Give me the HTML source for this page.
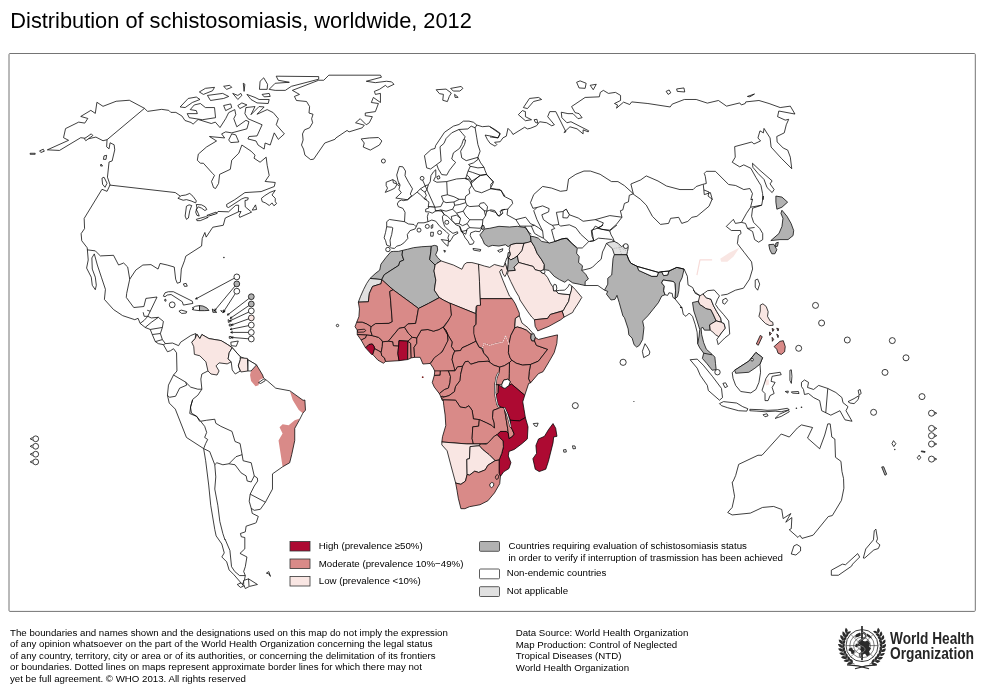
<!DOCTYPE html>
<html><head><meta charset="utf-8"><title>Distribution of schistosomiasis, worldwide, 2012</title>
<style>
html,body{margin:0;padding:0;background:#fff}
svg{display:block}
text{filter:grayscale(1)}
text{font-family:"Liberation Sans",sans-serif;fill:#000}
.t{font-size:21.8px}
.lg{font-size:9.7px}
.ft{font-size:9.7px}
.who{font-family:"Liberation Sans",sans-serif;font-weight:bold;font-size:16.6px;fill:#262626}
#map path,#map circle{stroke:#000;stroke-width:0.75;stroke-linejoin:round}
</style></head><body>
<svg width="988" height="691" viewBox="0 0 988 691">
<rect x="0" y="0" width="988" height="691" fill="#fff"/>
<text class="t" x="10.3" y="27.6">Distribution of schistosomiasis, worldwide, 2012</text>
<g id="map">
<path d="M256.52 364.9 L262.59 375.02 L263.6 378.06 L259.55 380.08 L258.54 385.14 L255.51 386.15 L251.05 381.09 L250.04 375.02 L251.05 370.97 Z" fill="#d98a88" style="stroke:none"/>
<path d="M304.86 400 L305.47 410.12 L302.83 413.16 L298.79 410.12 L292.71 400 L289.92 391.21 L303.08 400.32 Z" fill="#d98a88" style="stroke:none"/>
<path d="M299.8 418.62 L294.74 428.34 L294.74 440.49 L291.7 454.66 L289.68 462.75 L282.59 466.8 L278.54 440.49 L282.59 433.4 L279.55 427.33 L282.59 424.29 L288.66 425.3 L294.74 420.24 Z" fill="#d98a88" style="stroke:none"/>
<path d="M720.2 258.83 L729.31 252.75 L739.43 247.69 L733.36 256.8 L727.29 261.86 L721.21 261.86 Z" fill="#f9e6e3" style="stroke:none"/>
<path d="M765.02 380.36 L768.66 379.35 L769.07 384.41 L766.03 385.43 Z" fill="#f9e6e3" style="stroke:none"/>
<path d="M370.04 278.43 L375.05 273.76 L379.73 270.08 L380.9 264.24 L385.91 257.56 L390.92 251.71 L393.76 251.38 L398.43 251.38 L402.61 250.37 L402.11 255.05 L403.78 260.06 L399.77 261.73 L398.77 265.4 L390.08 270.92 L384.24 274.76 L381.73 279.6 Z" fill="#b2b2b2"/>
<path d="M402.61 250.37 L407.62 249.21 L413.46 247.7 L421.81 246.7 L431.33 246.2 L430.83 251.71 L429.66 259.73 L435.17 265.07 L434 270.92 L435.84 280.1 L434.34 290.12 L439.35 297.64 L428.49 303.48 L418.47 308.49 L411.79 303.48 L393.09 289.79 L381.73 279.6 L384.24 274.76 L390.08 270.92 L398.77 265.4 L399.77 261.73 L403.78 260.06 L402.11 255.05 Z" fill="#b2b2b2"/>
<path d="M431.33 246.2 L434.34 245.36 L437.18 246.03 L437.68 250.04 L435.67 254.72 L437.68 257.56 L441.02 260.9 L436.84 263.4 L435.17 265.07 L429.66 259.73 L430.83 251.71 Z" fill="#b2b2b2"/>
<path d="M435.17 265.07 L436.84 263.4 L441.02 260.9 L446.03 262.57 L453.54 265.07 L461.89 269.25 L464.4 264.24 L466.9 262.57 L471.91 262.57 L478.59 264.24 L479.43 271.75 L480.26 298.47 L480.6 305.99 L476.09 306.49 L475.59 313.5 L450.2 303.48 L443.52 300.14 L439.35 297.64 L434.34 290.12 L435.84 280.1 L434 270.92 Z" fill="#f9e6e3"/>
<path d="M370.04 278.43 L381.73 279.6 L381.06 283.78 L372.55 286.45 L369.37 293.46 L368.37 301.81 L358.35 302.15 L360.35 296.8 L363.69 289.29 L366.7 283.44 Z" fill="#e1e1e1"/>
<path d="M358.35 302.15 L368.37 301.81 L369.37 293.46 L372.55 286.45 L381.06 283.78 L381.73 279.6 L393.09 289.79 L389.75 291.46 L390.58 300.14 L392.31 321.71 L388.97 323.38 L375.61 323.6 L371.15 326.72 L366.7 323.94 L362.25 322.27 L356.68 322.27 L358.91 316.7 L359.46 308.91 Z" fill="#d98a88"/>
<path d="M356.68 322.27 L362.25 322.27 L366.7 323.94 L371.15 326.72 L370.6 330.62 L372.27 335.63 L366.7 335.07 L357.24 334.51 L357.24 330.06 L355.01 326.72 Z" fill="#d98a88"/>
<path d="M357.57 329.84 L364.47 329.17 L365.81 330.62 L363.92 332.06 L357.57 332.29 Z" fill="#d98a88"/>
<path d="M357.24 334.51 L366.7 335.07 L365.59 337.85 L361.13 340.08 Z" fill="#d98a88"/>
<path d="M361.13 340.08 L365.59 337.85 L366.7 335.07 L372.27 335.63 L378.39 337.3 L381.73 340.08 L382.51 341.75 L382.29 346.76 L381.17 352.33 L378.39 350.66 L375.05 348.99 L373.94 346.2 L372.27 343.98 L368.93 344.53 L365.59 347.87 Z" fill="#d98a88"/>
<path d="M365.59 347.87 L368.93 344.53 L372.27 343.98 L373.94 346.2 L374.49 348.99 L372.82 354.55 L371.71 354.55 Z" fill="#ad0a32"/>
<path d="M372.82 354.55 L374.49 348.99 L375.05 348.99 L378.39 350.66 L381.17 352.33 L381.73 355.67 L384.51 357.89 L385.63 361.46 L383.4 363.24 L377.83 360.12 Z" fill="#d98a88"/>
<path d="M382.51 341.75 L388.41 341.19 L392.86 341.75 L393.42 345.65 L398.65 345.87 L397.87 353.44 L398.99 360.68 L385.63 361.46 L384.51 357.89 L381.73 355.67 L381.17 352.33 L382.29 346.76 Z" fill="#d98a88"/>
<path d="M390.58 300.14 L389.75 291.46 L393.09 289.79 L411.79 303.48 L418.47 308.49 L416.8 317.81 L415.69 323.38 L407.89 323.94 L404.55 327.28 L398.99 328.39 L388.41 341.19 L382.51 341.75 L381.73 340.08 L378.39 337.3 L372.27 335.63 L370.6 330.62 L371.15 326.72 L375.61 323.6 L388.97 323.38 L392.31 321.71 Z" fill="#d98a88"/>
<path d="M388.41 341.19 L398.99 328.39 L404.55 327.28 L408.45 333.4 L412.35 337.3 L407.89 341.19 L398.99 340.64 L398.65 345.87 L393.42 345.65 L392.86 341.75 Z" fill="#d98a88"/>
<path d="M398.99 340.64 L407.89 341.19 L407.89 344.53 L407.67 359.56 L398.99 360.68 L397.87 353.44 L398.65 345.87 Z" fill="#ad0a32"/>
<path d="M407.89 341.19 L410.68 343.42 L411.23 357.89 L407.67 359.56 L407.89 344.53 Z" fill="#d98a88"/>
<path d="M410.68 343.42 L407.89 341.19 L412.35 337.3 L416.8 337.85 L416.8 343.42 L414.02 347.32 L414.57 357.34 L411.23 357.89 Z" fill="#d98a88"/>
<path d="M416.8 337.85 L421.26 330.06 L427.94 329.5 L433.5 331.17 L439.07 329.5 L443.52 326.72 L447.42 333.4 L447.98 341.19 L444.64 347.87 L439.07 355.67 L435.17 357.34 L430.16 363.46 L422.93 364.02 L420.14 357.34 L414.57 357.34 L414.02 347.32 L416.8 343.42 Z" fill="#d98a88"/>
<path d="M418.47 308.49 L428.49 303.48 L439.35 297.64 L443.52 300.14 L450.2 303.48 L450.76 303.9 L451.54 316.7 L446.86 322.27 L443.52 326.72 L439.07 329.5 L433.5 331.17 L427.94 329.5 L421.26 330.06 L416.8 337.85 L412.35 337.3 L408.45 333.4 L404.55 327.28 L407.89 323.94 L415.69 323.38 L416.8 317.81 Z" fill="#d98a88"/>
<path d="M478.55 264.21 L484.47 266.05 L489.74 267.37 L494.34 264.47 L500.26 266.05 L503.55 266.84 L505.26 262.5 L507.5 270.39 L506.18 274.34 L504.87 276.58 L502.89 273.68 L501.58 269.08 L499.61 271.71 L502.89 280.26 L506.18 288.16 L509.47 296.05 L512.11 298.68 L480.26 298.68 L479.47 281.58 Z" fill="#f9e6e3"/>
<path d="M479.87 234.87 L483.16 230.92 L484.47 228.95 L489.74 228.29 L498.95 226.32 L509.47 226.97 L517.37 226.32 L525.26 227.63 L527.89 230.92 L530.53 236.18 L531.18 241.45 L527.89 242.76 L522.63 243.42 L516.05 243.42 L510.79 244.74 L508.16 246.71 L505.53 244.74 L498.95 246.05 L492.37 245.39 L488.42 246.71 L484.47 244.08 L482.5 239.47 Z" fill="#b2b2b2"/>
<path d="M481.18 227.63 L482.5 225 L483.82 225.66 L484.47 228.29 L482.5 229.61 Z" fill="#b2b2b2"/>
<path d="M510.13 246.05 L510.79 244.74 L516.05 243.42 L523.95 243.42 L521.97 250.66 L517.37 255.92 L514.74 257.89 L510.79 259.87 L508.42 257.89 L508.82 257.24 L510.26 254.61 L509.74 251.97 L509.21 249.34 Z" fill="#f9e6e3"/>
<path d="M508.16 252.63 L509.74 251.97 L510.26 254.61 L508.82 257.24 L507.5 257.24 Z" fill="#b2b2b2"/>
<path d="M505.26 262.5 L506.84 257.89 L508.42 257.89 L508.16 264.47 L507.5 270.39 Z" fill="#ffffff"/>
<path d="M508.42 257.89 L510.79 259.87 L514.74 257.89 L517.37 255.92 L518.68 262.5 L514.08 267.11 L515.39 270.39 L508.16 271.05 L507.5 270.39 L508.16 264.47 Z" fill="#b2b2b2"/>
<path d="M523.95 243.42 L531.18 241.45 L534.47 246.71 L537.11 253.29 L541.71 259.87 L544.34 264.47 L543.68 269.74 L540.39 271.05 L535.13 269.74 L533.16 266.45 L518.68 262.5 L517.37 255.92 L521.97 250.66 Z" fill="#f9e6e3"/>
<path d="M531.18 241.45 L530.53 236.18 L534.47 236.84 L538.42 238.16 L541.71 241.45 L548.95 242.76 L556.84 240.79 L562.11 238.82 L567.37 238.16 L571.32 242.76 L577.24 248.68 L576.58 253.29 L579.21 256.58 L578.55 262.5 L582.5 265.79 L581.84 270.39 L585.79 274.34 L588.42 278.95 L585.13 281.58 L585.13 285.53 L579.21 284.21 L572.63 282.89 L568.03 279.61 L564.74 282.24 L559.47 279.61 L554.21 276.32 L548.95 270.39 L544.34 269.74 L544.34 264.47 L541.71 259.87 L537.11 253.29 L534.47 246.71 Z" fill="#b2b2b2"/>
<path d="M540.39 271.05 L543.68 269.74 L545 271.71 L544.34 273.68 L541.71 273.03 Z" fill="#ffffff"/>
<path d="M508.16 271.05 L515.39 270.39 L514.08 267.11 L518.68 262.5 L533.16 266.45 L535.13 269.74 L540.39 271.05 L541.71 273.03 L544.34 273.68 L547.63 277.63 L550.26 282.89 L552.24 286.18 L553.16 286.84 L553.55 290.79 L556.18 290.79 L558.16 293.42 L570 294.74 L568.68 301.32 L564.74 307.89 L563.42 310.53 L550.26 314.47 L547.63 318.42 L534.47 319.74 L531.84 317.11 L527.89 311.84 L520 300 L518.95 296.71 L515.39 290.79 L510.79 281.58 L507.5 274.34 Z" fill="#f9e6e3"/>
<path d="M553.16 286.84 L554.21 284.21 L556.18 284.87 L556.84 288.16 L556.18 290.79 L553.55 290.79 Z" fill="#ffffff"/>
<path d="M556.18 290.79 L558.16 293.42 L570 294.74 L571.32 290.79 L571.97 286.18 L569.34 284.21 L568.03 286.84 L564.74 290.13 L559.47 290.39 Z" fill="#ffffff"/>
<path d="M571.97 286.18 L575.26 289.47 L581.84 297.37 L577.89 303.95 L573.95 309.87 L572.63 312.5 L564.08 317.11 L562.11 311.18 L563.42 310.53 L564.74 307.89 L568.68 301.32 L570 294.74 L571.32 290.79 Z" fill="#f9e6e3"/>
<path d="M534.47 319.74 L547.63 318.42 L550.26 314.47 L562.11 311.18 L564.08 317.11 L560.79 319.74 L548.95 326.32 L537.76 330.92 L535.13 326.32 Z" fill="#d98a88"/>
<path d="M480.26 298.68 L512.11 298.68 L515.39 303.95 L519.34 313.16 L519.34 315.79 L515.39 318.42 L514.74 327.89 L510.79 335.53 L508.82 344.74 L508.16 342.11 L505.53 335.53 L502.89 342.11 L496.32 343.42 L489.74 345.39 L483.82 343.42 L482.5 348.03 L479.21 347.37 L475.92 340.79 L473.29 334.21 L473.29 327.63 L475.92 324.34 L476.32 313.16 L476.84 305.53 L480.53 305.26 Z" fill="#d98a88"/>
<path d="M519.34 315.79 L521.97 323.03 L527.89 327.63 L532.5 332.89 L531.18 334.47 L526.58 330.26 L521.97 328.29 L517.37 326.97 L514.74 327.89 L515.39 318.42 Z" fill="#f9e6e3"/>
<path d="M482.5 348.03 L483.82 343.42 L489.74 345.39 L496.32 343.42 L502.89 342.11 L505.53 335.53 L508.16 342.11 L508.82 344.74 L508.42 352.63 L510.13 357.89 L511.84 360.26 L509.47 362.5 L504.21 365.79 L499.61 367.11 L493.68 365.13 L489.08 361.84 L487.76 357.24 L483.82 353.29 Z" fill="#d98a88"/>
<path d="M514.74 327.89 L517.37 326.97 L521.97 328.29 L526.58 330.26 L531.18 334.47 L530.79 338.16 L531.84 340.79 L534.47 340.79 L536.45 345.39 L547.63 349.34 L538.42 361.18 L530.53 364.47 L522.63 365.13 L516.05 363.16 L511.84 360.26 L510.13 357.89 L508.42 352.63 L508.82 344.74 L510.79 335.53 Z" fill="#d98a88"/>
<path d="M531.18 334.47 L533.82 333.55 L535.39 337.5 L534.47 340.79 L531.84 340.79 L530.79 338.16 Z" fill="#b2b2b2"/>
<path d="M535.39 337.5 L538.42 339.47 L548.95 336.84 L557.5 334.87 L556.84 343.42 L554.21 352.63 L548.95 361.84 L543.03 371.71 L538.42 373.68 L530.53 382.89 L528.55 378.95 L529.21 371.71 L530.53 364.47 L538.42 361.18 L547.63 349.34 L536.45 345.39 L534.47 340.79 Z" fill="#d98a88"/>
<path d="M511.84 360.26 L516.05 363.16 L522.63 365.13 L530.53 364.47 L529.21 371.71 L528.55 378.95 L530.53 382.89 L528.68 383.42 L524.74 395.26 L511.58 384.08 L508.95 385.39 L510.26 381.45 L508.95 379.74 L509.21 373.68 L509.47 362.5 Z" fill="#d98a88"/>
<path d="M499.61 367.11 L504.21 365.79 L509.47 362.5 L509.21 373.68 L508.95 379.74 L507.63 379.21 L503.68 380.13 L501.71 384.74 L498.42 384.74 L495.79 384.74 L495.79 379.47 L497.76 374.21 L499.61 369.74 Z" fill="#d98a88"/>
<path d="M450.13 303.16 L475.79 313.68 L475.79 324.21 L473.82 326.18 L473.82 333.42 L475.79 341.32 L467.89 345.26 L461.97 347.89 L460.66 350.53 L454.74 351.18 L451.45 346.58 L452.11 341.97 L448.16 335.39 L446.18 330.79 L443.55 327.5 L448.16 320.92 L451.45 315 L450.79 308.42 Z" fill="#d98a88"/>
<path d="M443.55 327.5 L446.18 330.79 L448.16 335.39 L452.11 341.97 L451.45 346.58 L454.74 351.18 L452.76 355.79 L452.11 359.74 L455.39 370.26 L448.16 370.92 L440.26 371.58 L435 371.58 L433.03 367.63 L430.39 363.68 L434.34 357.76 L442.24 351.84 L448.16 340 L447.5 334.74 Z" fill="#d98a88"/>
<path d="M454.74 351.18 L460.66 350.53 L461.97 347.89 L467.89 345.26 L475.79 341.32 L479.08 347.24 L481.71 348.55 L483.68 353.16 L488.29 358.42 L489.61 361.71 L487.94 361.26 L478.83 361.76 L470.73 364.29 L468.2 361.26 L465.16 361.76 L462.63 366.32 L457.57 366.82 L455.04 370.87 L452.11 359.74 L452.76 355.79 Z" fill="#d98a88"/>
<path d="M434.8 370.87 L440.36 370.87 L440.16 375.22 L434.29 375.43 Z" fill="#d98a88"/>
<path d="M434.29 375.43 L440.16 375.22 L440.36 370.87 L448.46 370.87 L450.49 376.44 L449.98 382.51 L448.46 388.08 L444.41 389.6 L439.35 393.64 L434.29 387.06 L432.27 382.51 Z" fill="#d98a88"/>
<path d="M448.46 370.87 L455.04 370.87 L457.57 366.82 L462.63 366.32 L460.61 374.41 L460.1 380.49 L455.55 386.56 L454.53 391.62 L448.97 395.67 L443.4 397.19 L441.88 398.7 L441.38 397.69 L439.35 393.64 L444.41 389.6 L448.46 388.08 L449.98 382.51 L450.49 376.44 Z" fill="#d98a88"/>
<path d="M440.87 396.68 L442.89 396.17 L443.91 398.2 L442.39 400.22 Z" fill="#d98a88"/>
<path d="M462.63 366.32 L465.16 361.76 L468.2 361.26 L470.73 364.29 L478.83 361.76 L487.94 361.26 L489.08 361.84 L493.68 365.13 L499.61 367.11 L499.07 372.89 L496.03 378.46 L495.02 384.53 L495.39 384.74 L495.13 392.63 L495.79 395.26 L497.11 404.47 L501.05 407.11 L498.42 408.42 L493.16 410.39 L492.5 417.63 L494.21 422.89 L494.47 428.16 L491.84 425.53 L486.58 422.89 L479.34 419.61 L473.42 418.95 L472.11 410.39 L468.82 405.79 L465.53 407.76 L460.26 407.11 L455.66 400.26 L443.16 399.87 L442.89 400.73 L441.88 398.7 L443.4 397.19 L448.97 395.67 L454.53 391.62 L455.55 386.56 L460.1 380.49 L460.61 374.41 Z" fill="#d98a88"/>
<path d="M443.16 399.87 L455.66 400.26 L460.26 407.11 L465.53 407.76 L468.82 405.79 L472.11 410.39 L473.42 418.95 L479.34 419.61 L478.68 426.18 L472.76 426.84 L472.11 438.68 L473.42 443.95 L466.84 443.95 L441.84 441.97 L442.5 436.71 L445.79 425.53 L445.13 415 L443.82 405.79 Z" fill="#d98a88"/>
<path d="M493.16 410.39 L498.42 408.42 L501.05 407.11 L504.34 407.76 L506.32 420.26 L507.63 428.16 L508.29 433.42 L506.32 431.45 L500.39 431.45 L497.11 434.74 L494.47 436.05 L487.89 443.29 L480.66 443.95 L473.42 443.95 L472.11 438.68 L472.76 426.84 L478.68 426.18 L479.34 419.61 L486.58 422.89 L491.84 425.53 L494.47 428.16 L494.21 422.89 L492.5 417.63 Z" fill="#d98a88"/>
<path d="M495.39 384.74 L498.42 384.74 L498.16 392.63 L495.79 395.26 L495.13 392.63 Z" fill="#d98a88"/>
<path d="M498.42 384.74 L501.71 386.71 L505 388.42 L508.95 385.39 L511.58 384.08 L524.74 395.26 L522.76 401.84 L524.08 409.74 L525.39 417.63 L519.47 420.92 L510.26 420.26 L507.63 413.68 L504.34 407.76 L501.05 407.11 L497.11 404.47 L495.79 395.26 L498.16 392.63 Z" fill="#ad0a32"/>
<path d="M501.71 384.74 L503.68 380.13 L507.63 379.21 L510.26 381.45 L508.95 385.39 L505 388.42 L502.11 387.37 Z" fill="#ffffff"/>
<path d="M504.34 407.76 L507.63 413.68 L510.26 420.26 L510.53 426.84 L512.24 429.47 L514.21 434.08 L512.24 436.71 L508.95 438.68 L508.29 433.42 L507.63 428.16 L506.32 420.26 Z" fill="#d98a88"/>
<path d="M525.39 417.63 L528.03 426.84 L527.37 438.68 L527.37 438.95 L522.11 443.55 L514.21 449.47 L508.95 451.45 L508.29 456.05 L510.92 462.63 L508.95 468.55 L503.68 471.84 L500.39 476.45 L499.08 473.16 L499.08 460 L501.71 453.42 L503.42 446.84 L503.03 440.92 L499.74 437.63 L497.11 434.74 L500.39 431.45 L506.32 431.45 L508.29 433.42 L508.95 438.68 L512.24 436.71 L514.21 434.08 L512.24 429.47 L510.53 426.84 L510.26 420.26 L519.47 420.92 Z" fill="#ad0a32"/>
<path d="M480 443.95 L486.58 444.21 L491.18 439.61 L494.47 436.05 L497.11 434.74 L499.74 437.63 L503.03 440.92 L503.42 446.84 L501.71 453.42 L499.08 460 L495.13 460.66 L489.21 454.74 L482.63 449.47 L479.34 445.79 Z" fill="#d98a88"/>
<path d="M441.84 441.97 L466.84 443.95 L473.42 443.95 L480 443.95 L479.34 445.79 L470.13 446.58 L469.47 458.68 L466.84 459.34 L467.11 474.47 L465.53 481.05 L460.92 484.34 L455.66 483.03 L451.05 465.92 L447.11 450.79 L441.84 444.87 Z" fill="#f9e6e3"/>
<path d="M470.13 446.58 L479.34 445.79 L482.63 449.47 L489.21 454.74 L495.13 460.66 L487.89 465.26 L485.26 469.87 L478.68 472.5 L474.74 471.18 L469.47 475.13 L467.11 474.47 L466.84 459.34 L469.47 458.68 Z" fill="#f9e6e3"/>
<path d="M455.66 483.03 L460.92 484.34 L465.53 481.05 L467.11 474.47 L469.47 475.13 L474.74 471.18 L478.68 472.5 L485.26 469.87 L487.89 465.26 L495.13 460.66 L499.08 460 L499.08 473.16 L500.39 476.45 L499.74 483.68 L494.47 492.89 L487.89 500.79 L480 504.74 L469.47 506.71 L464.87 508.68 L460.92 508.68 L458.29 498.16 L456.97 490.26 Z" fill="#d98a88"/>
<path d="M495.79 475.79 L497.37 474.47 L498.68 476.05 L498.16 478.68 L496.45 479.47 L495.39 477.76 Z" fill="#d98a88"/>
<path d="M489.87 483.95 L491.84 482.37 L493.82 483.42 L493.55 486.05 L491.58 487.63 L489.87 486.32 Z" fill="#ffffff"/>
<path d="M553.03 423.55 L555.66 428.16 L556.97 436.32 L553.68 436.97 L553.03 442.89 L548.42 461.32 L545.79 469.21 L539.21 471.58 L535.26 469.21 L532.89 458.68 L536.58 453.42 L535.92 445.53 L538.55 438.95 L544.47 436.32 L548.42 429.74 Z" fill="#ad0a32"/>
<path d="M399.34 166.45 L402.89 166.84 L405.53 171.05 L405 175.66 L408.55 182.24 L412.5 188.82 L410.26 194.08 L411.58 195.79 L407.24 199.74 L401.97 198.95 L395.79 198.03 L401.32 192.76 L398.95 189.47 L400 185.26 L398.03 180.92 L396.71 175 Z" fill="#ffffff"/>
<path d="M386.18 182.24 L392.76 179.61 L396.05 181.58 L396.71 184.87 L394.74 188.16 L390.79 190.13 L385.26 192.37 L387.5 188.16 L386.18 185.53 Z" fill="#ffffff"/>
<path d="M392.76 179.61 L393.42 182.89 L396.05 183.55" fill="none"/>
<path d="M386.69 221.71 L389.47 219.48 L404.5 221.71 L408.4 223.94 L413.97 224.49 L416.19 226.72 L415.08 228.95 L410.07 230.62 L407.29 234.51 L407.84 238.41 L403.95 242.86 L400.61 245.09 L396.71 246.2 L394.48 248.43 L391.7 248.1 L389.47 246.2 L386.69 245.09 L385.58 240.64 L384.13 237.85 L385.58 232.29 L386.69 226.72 Z" fill="#ffffff"/>
<path d="M386.69 226.72 L391.7 227.28 L392.81 227.83 L391.7 234.51 L390.03 240.08 L390.59 245.65 L389.47 246.2" fill="none"/>
<path d="M404.5 221.71 L405.06 212.25 L402.83 208.35 L398.38 206.68 L397.27 203.9 L398.94 201.11 L401.72 200 L403.29 200.66 L407.89 199.74 L410.53 197.37 L417.11 192.11 L420.39 188.82 L425.66 185.53 L428.29 184.87 L430.26 181.58 L430.92 175.66 L433.55 171.71 L435.79 169.74 L435.79 176.32 L433.55 180.53 L436.84 182.24 L446.71 181.58 L456.58 178.95 L465.79 178.29 L465.65 179.03 L466.76 175.13 L468.1 171.01 L470.32 166.22 L468.54 164.55 L473.44 162.88 L477.89 159.54 L477.89 157.32 L466.2 160.66 L461.75 157.87 L460.64 151.19 L464.53 144.51 L465.65 140.06 L463.42 139.5 L461.75 144.51 L459.52 148.41 L453.4 152.86 L451.73 158.99 L455.63 162.33 L449.5 170.12 L446.72 175.13 L441.71 174.57 L438.37 169.01 L436.7 164.55 L430.58 169.01 L426.68 167.89 L424.45 155.65 L431.13 149.52 L435.03 148.41 L435.59 145.63 L444.49 132.27 L453.4 126.14 L458.97 124.47 L463.42 121.13 L468.99 121.13 L473.44 122.25 L476.78 125.03 L482.35 126.7 L489.03 126.14 L495.71 130.04 L500.16 133.38 L497.94 137.83 L491.26 136.16 L485.13 135.05 L487.36 139.5 L490.14 143.4 L495.15 146.18 L496.82 144.51 L494.6 142.29 L500.16 141.73 L502.95 137.83 L506.29 136.16 L507.96 128.37 L511.3 131.71 L512.97 134.49 L524.66 127.26 L527.44 128.93 L530 128.37" fill="none"/>
<path d="M436.7 164.55 L441.15 161.21 L440.04 146.74 L443.94 143.4 L446.16 138.39 L451.73 132.82 L458.97 129.48 L462.31 133.38 L465.09 136.72 L463.98 139.5" fill="none"/>
<path d="M458.97 129.48 L467.87 128.93 L471.21 126.14 L475.11 127.81 L476.78 125.03" fill="none"/>
<path d="M475.11 127.81 L476.78 137.83 L477.89 144.51 L480.12 151.19 L477.89 157.32 L480.68 162.88 L484.02 167.34 L485.13 170.68 L486.8 174.57 L491.26 179.59 L493.48 182.37 L491.26 186.82" fill="none"/>
<path d="M470.1 166.22 L477.89 167.89 L484.02 167.34" fill="none"/>
<path d="M468.1 171.01 L472.33 172.35 L480.12 175.13 L486.8 174.57" fill="none"/>
<path d="M480.12 175.13 L472.33 182.37 L470.66 179.59 L468.99 176.8 L466.76 175.13" fill="none"/>
<path d="M465.65 179.03 L470.1 179.03 L470.66 179.59" fill="none"/>
<path d="M436.7 176.8 L439.15 175.69 L440.04 178.14 L437.81 179.25 Z" fill="#ffffff"/>
<path d="M416.19 226.72 L417.86 222.82 L423.99 222.82 L427.88 221.71 L431.78 220.04 L435.68 221.15 L440.13 226.72 L446.26 231.73 L449.04 234.51 L447.93 237.85 L449.37 242.09 L451.27 239.52 L453.49 235.63 L457.95 233.18 L457.39 231.73 L452.94 233.4 L448.48 230.06 L444.59 226.16 L442.91 221.15 L442.36 216.7 L444.03 214.47 L447.37 216.14 L451.82 220.6 L456.28 225.05 L459.62 226.16 L462.96 233.4 L465.18 237.85 L467.97 241.19 L469.64 244.53 L472.98 243.98 L474.09 241.75 L471.86 238.97 L470.19 235.63 L470.75 232.84 L475.2 231.17 L479.66 231.73 L481.88 227.83" fill="none"/>
<path d="M441.24 239.52 L448.48 240.64 L447.93 246.2 L445.14 243.98 Z" fill="#ffffff"/>
<path d="M430.67 232.29 L433.45 232.29 L433.12 236.18 L430.67 236.18 Z" fill="#ffffff"/>
<path d="M431.22 225.61 L432.89 224.49 L432.67 227.83 L431.22 228.39 Z" fill="#ffffff"/>
<path d="M472.98 248.43 L480.77 249.54 L480.21 251.21 L473.53 250.1 Z" fill="#ffffff"/>
<path d="M443.81 250.32 L445.59 250.77 L444.7 252.33 Z" fill="#ffffff"/>
<path d="M446.71 181.58 L447.37 194.74 L453.95 196.71 L459.21 199.34 L465.13 199.34 L465.79 196.05 L469.74 193.42 L469.08 189.47 L471.71 185.53 L469.74 180.92 L465.79 178.29" fill="none"/>
<path d="M447.37 194.74 L441.45 196.05 L443.42 201.32 L446.05 202.63 L453.95 201.97 L459.21 199.34" fill="none"/>
<path d="M428.29 184.87 L426.97 189.47 L425 192.11 L426.32 195.39 L424.34 198.68 L428.95 201.97 L428.29 206.58 L434.87 207.24 L440.79 206.58 L443.42 201.32" fill="none"/>
<path d="M417.11 192.11 L420.39 194.74 L424.34 198.68" fill="none"/>
<path d="M420.39 188.82 L423.68 191.45 L425 192.11" fill="none"/>
<path d="M427.88 221.71 L427.33 216.7 L428.44 212.8" fill="none"/>
<path d="M435.68 210.58 L441.8 211.13 L444.03 214.47" fill="none"/>
<path d="M426.97 199.34 L424.34 198.68" fill="none"/>
<path d="M425.66 209.21 L428.95 207.89 L428.29 206.58 L434.87 207.24 L435.53 211.18 L432.24 213.16 L428.95 211.84 L425.66 211.84 Z" fill="#ffffff"/>
<path d="M435.53 211.18 L440.79 209.87 L446.05 211.18 L452.63 209.21 L454.61 205.26 L453.95 201.97" fill="none"/>
<path d="M454.61 205.26 L459.21 204.61 L465.79 202.63 L465.13 199.34" fill="none"/>
<path d="M452.63 209.21 L456.58 213.16 L463.16 211.18 L467.11 205.26 L465.79 202.63" fill="none"/>
<path d="M467.11 205.26 L469.74 206.58 L478.95 205.92 L484.21 210.53 L485.53 215.79 L482.89 219.74 L469.74 219.74 L465.79 215.79 L463.16 211.18" fill="none"/>
<path d="M478.95 205.92 L480.26 203.29 L484.21 202.63 L487.5 206.58 L486.84 211.18 L484.21 210.53 Z" fill="#ffffff"/>
<path d="M469.74 219.74 L467.11 223.68 L469.74 227.63 L480.26 228.29 L482.24 226.32 L482.89 219.74" fill="none"/>
<path d="M471.71 185.53 L475 190.79 L481.58 192.76 L490.79 188.82 L500 189.47 L505 196.05" fill="none"/>
<path d="M471.71 185.53 L471.05 181.58 L480.26 175.66 L486.18 174.34 L493.42 181.58 L490.79 184.21 L490.79 188.82" fill="none"/>
<path d="M486.84 211.18 L490.79 209.87 L494.74 210.53 L498.03 215.79 L501.32 214.47 L500 211.18 L505 209.21" fill="none"/>
<path d="M485.53 215.79 L486.84 211.18" fill="none"/>
<path d="M451.32 216.45 L456.58 215.13 L460.53 218.42 L459.21 223.68 L455.26 223.68 L451.97 220.39 Z" fill="#ffffff"/>
<path d="M440.79 209.87 L443.42 213.16 L444.08 214.47" fill="none"/>
<path d="M459.61 226.18 L461.18 231.58 L465.79 234.21 L467.11 228.95 L469.74 227.63" fill="none"/>
<path d="M456.58 213.16 L460.53 218.42" fill="none"/>
<path d="M459.21 223.68 L462.5 225.66 L467.11 223.68" fill="none"/>
<path d="M461.18 231.58 L467.11 230.26" fill="none"/>
<path d="M490 188.06 L496.48 189.68 L501.34 190.49 L503.77 196.15 L511.86 200.2 L512.67 203.44 L507.81 209.11 L501.34 209.92 L502.96 213.16 L498.91 216.4 L495.67 212.35 L490 210.73" fill="none"/>
<path d="M507.81 209.11 L507 214.78 L515.91 219.64 L519.96 226.11" fill="none"/>
<path d="M515.91 219.64 L525.63 217.21 L530.49 223.68 L534.53 225.3 L538.58 227.73 L542.63 230.97" fill="none"/>
<path d="M519.96 226.11 L524.82 226.11 L528.87 232.59 L531.3 234.21" fill="none"/>
<path d="M524.82 226.11 L531.3 226.11 L534.53 225.3" fill="none"/>
<path d="M531.3 226.11 L534.53 233.4 L538.58 235.83 L543.44 238.26" fill="none"/>
<path d="M533.72 210.73 L536.96 207.49 L542.63 205.87 L549.11 208.62 L548.62 211.86 L541.82 214.78 L543.44 219.64 L549.11 223.68 L552.35 225.3 L554.78 228.54 L551.54 229.68 L553.16 235.83 L554.78 241.5 L549.11 243.12 L543.44 238.26 L542.63 230.97 L536.96 219.64 Z" fill="#ffffff"/>
<path d="M536.96 207.49 L532.91 208.3 L530.49 202.63 L533.72 194.53 L542.63 186.44 L551.54 188.06 L560.45 191.3 L566.92 190.49 L568.54 179.15 L575.83 174.29 L583.93 171.05 L590.4 171.05 L600.12 174.29 L611.46 181.58 L617.94 181.58 L624.41 185.63 L633.32 193.72 L629.27 195.34 L628.46 201.82 L624.41 203.44 L622.79 209.92 L620.36 210.73 L621.98 217.21 L609.84 215.59 L595.26 219.64 L583.12 221.26 L578.26 218.02 L569.35 214.78 L566.11 209.11 L562.87 211.54 L556.4 212.35 L558.83 224.49 L552.35 225.3" fill="none"/>
<path d="M563.2 211.54 L566.11 209.11 L569.35 214.78 L567.41 218.02 L562.87 217.69 Z" fill="#ffffff"/>
<path d="M558.83 224.49 L560.45 226.11 L569.35 224.82 L575.83 227.73 L580.69 234.21 L588.79 241.5 L582.31 247.98 L577.45 247.98 L572.59 243.93 L566.11 238.26 L561.26 239.07 L554.78 241.5" fill="none"/>
<path d="M595.26 219.64 L603.36 222.87 L601.74 226.11 L598.5 227.73 L595.26 226.11 L592.02 230.97 L593.64 240.69 L588.79 241.5" fill="none"/>
<path d="M598.5 227.73 L601.74 229.35 L609.84 230.16 L616.32 224.49 L621.98 217.21" fill="none"/>
<path d="M633.32 193.72 L630.89 184.01 L640.61 179.96 L646.28 175.91 L650 177.53" fill="none"/>
<path d="M530.08 128.42 L536.56 125.79 L539.6 121.74 L546.68 122.75 L551.74 125.79 L554.37 124.78 L547.69 116.68 L549.72 111.62 L555.79 111.62 L565.91 131.86 L563.89 132.47 L569.96 126.8 L577.04 128.83 L583.12 133.89 L583.12 129.84 L588.18 131.86 L588.79 130.85 L570.97 121.74 L566.92 122.75 L561.86 117.69 L561.26 112.23 L567.94 113.64 L573 113.64 L578.06 118.7 L582.11 117.69 L579.07 113.64 L575.02 112.63 L571.58 106.56 L585.14 97.45 L599.31 96.84 L600.32 92.39 L603.36 90.36 L608.42 93.4 L615.51 92.39 L620.57 95.43 L620.57 100.49 L614.49 103.52 L617.53 104.94 L616.52 108.18 L623.6 102.11 L629.68 104.53 L631.7 101.9 L647.89 103.52 L670.16 106.96 L672.19 104.13 L684.33 99.47 L690 99.47 L696.19 99.47 L707.33 103.12 L718.46 100.49 L726.56 106.15 L739.72 102.91 L741.34 104.94 L745.18 103.52 L745.79 101.9 L758.95 100.49 L769.07 103.52 L780.2 107.57 L790.32 106.15 L794.98 114.05 L778.79 111.01 L777.57 116.68 L785.26 120.12 L788.7 119.31 L786.28 124.78 L784.25 132.87 L776.76 136.52 L777.17 141.98 L783.24 148.06 L787.69 150.08 L790.32 157.17 L791.74 168.7 L781.21 158.18 L771.09 147.04 L770.08 137.94 L764.01 128.42 L763.4 132.87 L759.96 130.85 L757.94 137.94 L760.57 140.97 L753.89 144.01 L751.86 141.98 L734.66 146.64 L735.26 157.17 L732.23 162.23 L739.72 166.88 L743.77 164.86 L750.85 168.3 L755.91 177.41 L760.97 185.51 L762.59 193.6 L763 199.68 L763.32 196.07 L761.7 205.18 L752.59 208.22 L751.58 216.32 L753.6 222.39 L759.68 228.46 L762.71 233.52 L762.71 239.6 L758.66 242.23 L754.62 239.6 L752.59 231.5 L747.53 228.46 L745.51 223.4 L741.46 222.39 L735.38 223.4 L733.36 219.35 L726.28 226.44 L731.34 230.49 L740.45 230.49 L741.05 233.52 L738.42 235.55 L737.41 243.64 L744.49 252.75 L751.58 261.86 L752.59 268.95 L749.55 279.07 L743.48 288.18 L735.38 290.2 L727.29 294.25 L721.21 295.26" fill="none"/>
<path d="M523.4 107.57 L529.47 98.46 L538.58 97.45 L541.62 99.47 L533.52 101.5 L527.45 108.58 Z" fill="#ffffff"/>
<path d="M518.34 114.66 L522.39 110.61 L525.43 111.62 L525.43 116.68 L531.5 119.72 L525.43 120.73 Z" fill="#ffffff"/>
<path d="M534.13 119.72 L536.96 119.31 L537.77 123.16 L535.34 122.35 Z" fill="#ffffff"/>
<path d="M490 126.8 L500.12 133.89 L498.1 137.94 L490 136.92" fill="none"/>
<path d="M576.64 82.27 L580.08 80.85 L586.15 83.28 L585.14 88.34 L579.07 87.94 Z" fill="#ffffff"/>
<path d="M590.2 85.3 L596.28 84.29 L593.24 89.76 Z" fill="#ffffff"/>
<path d="M666.11 91.38 L669.15 89.96 L670.77 92.79 L668.14 94.41 Z" fill="#ffffff"/>
<path d="M676.64 88.95 L683.93 87.94 L684.74 91.98 L677.25 91.38 Z" fill="#ffffff"/>
<path d="M747.41 96.44 L754.49 94.01 L749.84 96.84 Z" fill="#ffffff"/>
<path d="M752.47 163.24 L759.96 170.32 L772.11 180.85 L770.08 183.89 L774.13 189.55 L772.11 192.59 L767.04 187.53 L764.01 179.43 L757.94 173.36 L752.87 167.29 Z" fill="#ffffff"/>
<path d="M680 189.55 L693.16 189.55 L696.19 186.52 L702.27 184.49 L706.32 183.48 L705.3 176.4 L704.29 173.36 L706.32 171.34 L715.43 171.34 L728.58 184.49 L735.67 185.51 L743.77 189.55 L749.84 188.54 L752.47 193.6 L750.85 199.68 L752.59 199.11 L750.57 207.21 L761.7 205.18" fill="none"/>
<path d="M703.28 184.49 L704.29 194.62 L710.36 192.59 L712.39 199.68" fill="none"/>
<path d="M750.57 207.21 L746.52 213.28 L741.46 222.39" fill="none"/>
<path d="M747.53 228.46 L754.62 227.45" fill="none"/>
<path d="M633.16 194.05 L640.24 199.11 L646.32 205.18 L652.39 216.32 L660.49 224.41 L668.58 223.4 L670.61 218.34 L678.7 217.33 L681.74 223.4 L687.81 221.38 L691.86 217.33 L696.92 216.32 L709.07 206.19 L712.11 199.11 L708.06 196.07 L709.07 192.02 L704.01 190" fill="none"/>
<path d="M775.87 196.07 L781.94 197.09 L787.61 202.15 L781.94 207.21 L776.88 209.23 L775.87 202.15 Z" fill="#b2b2b2"/>
<path d="M781.94 210.24 L787 216.32 L791.05 223.4 L793.68 230.49 L793.08 235.55 L788.02 239.6 L779.92 239.6 L770.81 240.61 L778.91 233.52 L781.94 226.44 L782.96 218.34 L780.93 213.28 Z" fill="#b2b2b2"/>
<path d="M768.79 244.66 L773.85 244.25 L776.88 249.72 L774.86 253.77 L771.82 253.77 L769.8 249.72 Z" fill="#b2b2b2"/>
<path d="M775.87 243.04 L778.3 242.23 L777.49 246.28 L775.47 246.68 Z" fill="#b2b2b2"/>
<path d="M755.22 280.08 L757.65 279.07 L759.68 284.13 L757.65 290.2 L755.22 287.17 Z" fill="#ffffff"/>
<path d="M614.34 254.61 L626.84 254.61 L628.82 259.87 L630.79 263.16 L637.37 266.45 L638.68 270.39 L651.84 276.32 L657.11 276.32 L658.42 272.37 L661.71 271.71 L663.68 275.66 L667.63 275 L668.95 271.05 L676.84 267.37 L684.08 269.08 L682.11 277.63 L679.47 282.89 L678.82 290.79 L677.5 296.71 L674.87 298.68 L675.53 290.79 L674.87 283.55 L673.55 281.58 L663.03 280 L661.71 282.89 L664.34 286.18 L663.68 290.79 L665 294.74 L661.71 296.05 L658.42 302.63 L653.16 309.21 L647.89 315.79 L642.63 321.05 L643.95 327.63 L642.63 339.47 L639.34 345.39 L636.71 347.11 L634.08 344.74 L632.11 338.16 L628.82 334.87 L628.16 328.95 L624.47 317.76 L622.89 315.79 L619.21 302.63 L616.97 295.39 L615 299.34 L611.05 300 L606.45 294.08 L607.76 291.45 L604.47 290.13 L607.76 284.21 L607.76 278.29 L611.71 275 L613.03 258.55 Z" fill="#b2b2b2"/>
<path d="M637.37 266.45 L658.42 272.37 L657.11 276.32 L651.84 276.32 L638.68 270.39 Z" fill="#ffffff"/>
<path d="M661.71 271.71 L668.95 271.05 L667.63 275 L663.68 275.66 Z" fill="#ffffff"/>
<path d="M663.03 280 L673.55 281.58 L674.87 283.55 L675.53 290.79 L674.87 298.68 L672.89 297.37 L672.24 293.42 L668.95 292.76 L667.63 295.39 L665 294.74 L663.68 290.79 L664.34 286.18 L661.71 282.89 Z" fill="#ffffff"/>
<path d="M606.45 243.42 L609.74 242.11 L614.34 241.45 L618.29 243.42 L621.58 246.71 L624.21 244.74 L627.5 244.74 L628.16 248.03 L627.5 251.32 L626.84 254.61 L614.34 254.61 L612.37 248.68 Z" fill="#e1e1e1"/>
<path d="M590 241.45 L593.95 240.79 L598.55 238.16 L605.79 238.82 L611.71 239.47 L614.34 241.45" fill="none"/>
<path d="M591.32 230.26 L591.97 236.18 L593.95 240.79" fill="none"/>
<path d="M591.32 230.26 L597.24 228.29 L603.16 225" fill="none"/>
<path d="M597.24 228.29 L609.74 230.92 L611.05 234.87 L613.03 238.16 L614.34 241.45" fill="none"/>
<path d="M609.74 230.92 L616.97 225" fill="none"/>
<path d="M606.45 243.42 L604.47 248.03 L602.5 251.97 L601.18 259.21 L596.58 263.16 L592.63 267.11 L590 268.42 L581.84 270.39" fill="none"/>
<path d="M585.13 285.53 L597.89 285.53 L604.47 290.13" fill="none"/>
<path d="M626.84 254.61 L628.82 259.87 L630.79 263.16 L637.37 266.45 L658.42 272.37 L661.71 271.71 L668.95 271.05 L676.84 267.37 L684.08 269.08 L687.37 276.32 L688.03 284.87 L692.63 287.5 L695.26 293.42 L699.87 295.39" fill="none"/>
<path d="M674.87 298.68 L682.11 307.89 L680 307.11 L681.97 307.76 L683.29 314.34 L685.92 316.32 L689.21 313.03 L692.5 316.32 L695.13 324.21 L697.11 332.11 L697.76 343.95" fill="none"/>
<path d="M692.5 302.5 L698.42 301.18 L699.74 304.47 L703.03 306.45 L705.66 308.42 L710.92 309.74 L713.55 315 L716.18 320.92 L709.61 324.87 L710.26 330.13 L704.34 330.13 L703.03 327.5 L701.05 328.16 L701.71 334.74 L703.68 342.63 L706.32 349.21 L712.24 354.47 L714.87 357.11 L715.53 363.68 L716.18 369.61 L712.24 370.26 L706.97 363.68 L702.37 358.42 L703.68 353.16 L699.74 347.89 L697.76 343.95 L699.08 336.05 L699.74 329.47 L696.45 318.95 L693.82 311.05 Z" fill="#b2b2b2"/>
<path d="M703.68 353.16 L712.24 354.87" fill="none"/>
<path d="M698.42 301.18 L699.74 295.92 L703.03 293.95 L706.32 297.89 L710.92 299.21 L713.55 305.79 L716.84 311.71 L720.79 318.29 L721.45 322.24 L716.18 320.92 L713.55 315 L710.92 309.74 L705.66 308.42 L703.03 306.45 L699.74 304.47 Z" fill="#f9e6e3"/>
<path d="M709.61 324.87 L716.18 320.92 L721.45 322.24 L724.08 323.55 L725.39 328.16 L722.11 332.11 L718.82 336.71 L715.53 334.74 L712.89 332.11 L710.26 330.13 Z" fill="#f9e6e3"/>
<path d="M703.03 293.95 L707.63 290.66 L714.21 290 L719.47 295.92 L717.5 299.21 L715.53 304.47 L718.16 308.42 L723.42 314.34 L728.68 320.92 L729.74 334.08 L724.74 338.03 L718.16 344.61 L716.84 339.34 L718.82 336.71 L722.11 332.11 L725.39 328.16 L724.08 323.55 L721.45 322.24 L720.79 318.29 L716.84 311.71 L713.55 305.79 L710.92 299.21 L706.32 297.89 Z" fill="#ffffff"/>
<path d="M699.74 295.92 L695.79 292.63 L693.16 290" fill="none"/>
<path d="M722.76 299.87 L726.05 298.16 L727.63 300.53 L724.74 304.21 L722.76 303.16 Z" fill="#ffffff"/>
<path d="M760.26 305.13 L762.89 303.82 L766.18 306.45 L768.16 311.71 L767.5 316.32 L770.13 320.92 L772.76 322.24 L773.16 325.26 L769.47 325.53 L765.53 323.55 L761.58 319.61 L758.95 316.32 L760.26 311.05 Z" fill="#f9e6e3"/>
<path d="M772.11 328.42 L774.08 329.47 L772.76 331.45 Z" fill="#d98a88"/>
<path d="M776.71 328.16 L778.68 328.82 L778.03 331.05 Z" fill="#d98a88"/>
<path d="M769.47 332.11 L771.45 333.42 L769.74 335.39 Z" fill="#d98a88"/>
<path d="M776.71 334.08 L778.42 335.39 L778.03 337.63 Z" fill="#d98a88"/>
<path d="M772.11 337.37 L773.68 339.34 L772.37 341.32 Z" fill="#d98a88"/>
<path d="M756.32 343.95 L760.26 335.39 L762.24 336.71 L758.29 345.26 Z" fill="#d98a88"/>
<path d="M774.08 346.58 L780 341.32 L783.29 340.66 L785.26 346.58 L784.61 351.84 L781.32 354.47 L778.03 353.16 L776.71 349.21 Z" fill="#d98a88"/>
<path d="M690.12 359.72 L697.21 359.11 L703.28 365.18 L712.39 376.32 L721.5 388.46 L722.51 397.57 L719.47 400.2 L708.34 390.49 L707.33 385.43 L700.24 375.3 L697.21 368.22 Z" fill="#ffffff"/>
<path d="M732.23 372.67 L734.66 370.24 L748.83 361.13 L755.91 352.43 L762.59 357.69 L759.96 364.17 L760.57 372.27 L758.95 382.39 L755.91 389.47 L750.85 392.91 L740.73 391.5 L735.67 385.43 L733.04 378.34 Z" fill="#ffffff"/>
<path d="M734.66 370.24 L748.83 361.13 L755.91 352.43 L762.59 357.69 L759.96 364.17 L754.9 368.22 L748.83 372.27 L735.67 373.28 Z" fill="#b2b2b2"/>
<path d="M719.47 403.64 L723.52 401.62 L736.68 403.04 L742.75 406.68 L747.81 408.7 L746.8 411.13 L738.7 410.73 L727.57 407.69 L721.5 405.67 Z" fill="#ffffff"/>
<path d="M749.84 409.31 L760.97 409.72 L767.04 410.32 L777.17 409.92 L787.29 408.3 L789.31 409.72 L781.21 411.74 L775.14 411.13 L765.02 411.74 L756.92 411.13 L749.84 410.73 Z" fill="#ffffff"/>
<path d="M775.14 418.42 L779.19 414.37 L788.3 410.32 L789.31 411.74 L781.21 416.4 Z" fill="#ffffff"/>
<path d="M763 414.78 L767.04 413.77 L768.06 415.79 L765.02 416.8 Z" fill="#ffffff"/>
<path d="M761.98 390.49 L766.03 378.34 L769.07 373.89 L780.2 372.27 L781.21 374.7 L772.11 376.32 L771.09 381.38 L775.14 382.39 L772.11 387.45 L774.13 393.52 L770.08 395.55 L768.06 400.61 L765.02 400.61 L765.02 393.52 L761.98 390.49" fill="none"/>
<path d="M789.92 370.24 L791.34 369.84 L791.94 376.32 L791.34 383.4 L789.92 380.36 Z" fill="#ffffff"/>
<path d="M785.26 391.5 L788.3 391.09 L787.89 393.12 Z" fill="#ffffff"/>
<path d="M791.34 391.9 L798.42 391.5 L799.03 393.52 L792.35 393.12 Z" fill="#ffffff"/>
<path d="M801.46 382.39 L804.49 379.96 L808.54 382.39 L807.53 387.45 L813.6 389.47 L818.66 385.43 L827.77 388.46 L835.87 392.51 L841.94 397.57 L842.96 402.63 L848.02 406.68 L845.99 410.73 L852.06 421.26 L844.98 419.84 L839.92 410.73 L830.81 415.18 L821.7 410.73 L819.68 400.61 L813.6 397.57 L808.54 393.52 L804.49 394.53 L803.48 389.47 L801.46 386.44 Z" fill="#ffffff"/>
<path d="M827.77 388.46 L825.75 412.75" fill="none"/>
<path d="M848.02 401.62 L854.09 398.58 L859.15 395.55 L858.14 399.6 L854.09 403.64 L850.04 403.04 Z" fill="#ffffff"/>
<path d="M858.14 390.49 L860.16 389.47 L861.17 393.52 L859.15 394.94 Z" fill="#ffffff"/>
<path d="M733.04 481.58 L735.67 475.51 L738.7 464.37 L757.94 455.26 L761.98 455.26 L781.21 434.01 L789.31 437.04 L797.41 427.94 L801.46 424.9 L812.59 427.53 L807.53 438.06 L819.68 448.79 L824.74 435.02 L827.77 423.89 L830.2 423.89 L831.82 437.04 L834.86 439.07 L835.47 457.29 L840.93 461.34 L841.94 471.46 L843.56 478.54 L843.89 488.22 L841.46 500.36 L832.35 515.55 L828.3 516.56 L813.12 535.18 L801.98 538.42 L799.96 535.38 L797.94 537.41 L789.23 529.72 L791.26 528.7 L791.86 517.57 L785.79 522.23 L790.85 513.52 L783.16 518.58 L781.74 509.47 L773.64 506.44 L762.51 507.45 L750.36 513.12 L732.15 514.94 L727.69 512.51 L732.15 507.45 L734.57 496.32 L733.16 488.22 L732.15 482.15 Z" fill="#ffffff"/>
<path d="M791.26 554.01 L793.89 545.91 L796.92 544.49 L800.57 546.92 L800.57 550.97 L795.91 555.02 Z" fill="#ffffff"/>
<path d="M831.34 570.2 L842.47 564.13 L845.51 564.74 L857.65 553.6 L859.68 557.04 L852.59 564.13 L851.58 566.15 L838.42 575.26 L831.34 575.26 Z" fill="#ffffff"/>
<path d="M863.32 558.06 L865.75 548.95 L873.44 539.84 L874.25 530.73 L875.87 529.11 L877.49 538.83 L876.28 541.86 L879.92 544.9 L878.3 548.54 L873.85 549.96 L864.74 558.06 Z" fill="#ffffff"/>
<path d="M645 343.68 L647.89 348.03 L649.87 351.97 L649.21 354.61 L643.68 357.63 L642.37 351.32 Z" fill="#ffffff"/>
<path d="M650 177.5 L658 181 L666.5 186 L680 189.6" fill="none"/>
<path d="M107.04 139.72 L103 140.73 L95.91 137.09 L88.83 138.7 L80.73 137.69 L59.47 150.45 L47.33 149.84 L68.58 140.32 L63.52 137.69 L65.55 128.58 L78.7 122.11 L84.78 123.12 L87.81 118.46 L80.73 116.44 L90.85 110.36 L95.3 113.4 L96.92 102.27 L103 106.32 L116.15 101.26 L129.31 100.24 L144.49 108.34 L147.53 111.38 L161.7 109.35 L168.79 110.36 L170.81 112.39 L175.87 112.39 L181.94 116.03 L184.98 120.49 L191.05 122.51 L193.08 124.13 L198.14 119.47 L211.3 123.52 L215.34 122.11 L220 127.57 L225.67 118.7 L228.7 112.63 L234.78 109.6 L235.79 114.66 L233.77 118.7 L236.8 126.8 L245.91 120.32 L248.95 121.74 L246.92 128.83 L231.74 132.87 L225.67 131.86 L221.62 133.89 L224.66 137.94 L209.47 136.52 L216.56 140.97 L206.44 147.04 L198.34 154.13 L197.33 160.2 L200.36 163.24 L203.4 163.24 L212.51 173.36 L214.53 175.38 L211.5 181.46 L213.52 187.53 L215.55 188.54 L218.58 183.48 L219.6 174.37 L230.32 169.31 L231.74 160.2 L238.83 153.12 L241.86 145.02 L250.97 151.09 L255.02 155.14 L254.01 158.18 L260.08 162.23 L266.15 157.17 L267.17 165.26 L269.19 175.38 L265.14 181.46 L275.26 182.47 L274.25 186.52 L261.09 191.58 L244.9 192.59 L234.78 199.68 L226.58 204.47 L226.84 206.84 L228.55 207.5 L241.71 198.95 L245 197.63 L248.29 197.89 L247.63 200 L245 200.53 L245.26 206.84 L251.58 212.11 L239.74 217.37 L239.08 215.39 L241.05 211.45 L238.42 211.84 L225.26 218.03 L223.29 225.26 L212.76 227.24 L206.18 237.11 L204.87 232.5 L202.24 238.42 L201.58 246.05 L185.79 256.18 L184.47 260.79 L181.34 269.07 L180.32 282.23 L177.29 283.24 L175.67 279.19 L174.25 267.04 L167.17 265.02 L160.08 263.4 L158.06 269.07 L150.97 264.62 L142.87 265.02 L135.79 270.08 L129.72 279.19 L126.68 293.36 L126.28 297.41 L133.77 307.53 L143.89 306.52 L145.91 298.42 L157.04 297 L150.24 311.26 L147.81 316.32 L151.26 317.94 L158.34 317.33 L163.4 321.38 L162.39 327.45 L160.36 333.52 L162.39 339.6 L165.43 343.64 L172.51 343.04 L178.58 345.67 L180.61 342.23 L190.73 335.55 L195.79 333.52 L195.18 338.58 L191.74 342.23" fill="none"/>
<path d="M144.49 108.34 L107.04 139.72 L106.64 146.8 L109.07 148.83 L110.08 142.75 L114.13 144.78 L114.74 149.84 L112.11 160.97 L109.07 161.98 L107.45 177.17 L110.08 184.86 L107.04 191.34 L101.98 189.31 L84.17 218.46 L84.57 228.58 L81.13 233.64 L81.74 240.73 L87.21 247.81 L88.22 259.96 L86.6 268.06 L91.26 277.17 L92.27 285.26 L95.3 289.72 L96.32 285.26 L95.3 277.17 L92.27 269.07 L91.86 257.94 L94.29 253.89 L97.33 265.02 L101.38 277.17 L105.43 289.31 L104.41 299.43 L113.52 309.55 L122.63 315.63 L134.78 319.68 L138.1 318.34 L140.12 323.4 L145.18 327.45 L150.24 329.47 L152.27 334.53 L155.3 341.62 L158.34 343.64 L163.4 344.66 L167.45 351.74 L170.49 350.73 L173.52 348.7 L176.56 352.75 L176.96 370.97 L173.52 375.02 L168.46 385.14 L167.45 395.26 L169.23 403.04 L175.3 409.11 L186.44 437.45 L203.64 448.58 L205.67 460.73 L208.7 485.02 L210.73 505.26 L214.78 529.55 L216.15 535.91 L221.82 544.01 L224.25 552.91 L221.82 556.96 L226.68 561.82 L229.11 569.92 L233.97 574.78 L239.64 581.26 L242.06 585.3 L244.49 579.64 L245.3 575.59 L243.68 571.54 L245.3 566.68 L246.92 556.96 L239.96 553.4 L244.82 548.87 L244.82 537.53 L241.26 536.72 L240.45 533.48 L245.3 531.86 L246.11 526.19 L255.83 522.96 L256.28 522.47 L258.3 516.4 L252.23 513.36 L251.21 508.3 L254.25 510.32 L260.32 509.31 L265.38 502.23 L272.47 489.07 L272.47 473.89 L282.59 466.8 L289.68 462.75 L291.7 454.66 L294.74 440.49 L294.74 428.34 L299.8 419.23 L302.83 413.16 L305.47 410.12 L304.86 400 L303.08 400.32 L289.92 390.81 L275.75 388.18 L267.65 381.09 L263.6 378.06 L262.59 375.02 L256.52 364.9 L248.02 359.84 L240.32 356.8 L232.23 347.69 L227.17 344.25 L221.09 340.61 L208.95 338.58 L201.86 334.53 L199.84 338.58 L196.8 334.13" fill="none"/>
<path d="M84.37 138.7 L91.26 133.85 L92.87 135.47 L85.79 140.73 Z" fill="#ffffff"/>
<path d="M39.64 150.85 L43.28 149.23 L44.29 151.26 L40.85 152.47 Z" fill="#ffffff"/>
<path d="M30.12 153.28 L35.18 153.28 L35.18 154.29 L30.12 154.29 Z" fill="#ffffff"/>
<path d="M104.01 155.91 L106.64 155.3 L106.03 159.35 L103.4 159.35 Z" fill="#ffffff"/>
<path d="M100.97 164.01 L102.59 166.03 L100.57 166.03 Z" fill="#ffffff"/>
<path d="M101.98 178.18 L104.01 177.17 L107.04 183.24 L105.02 187.29 L102.59 184.25 Z" fill="#ffffff"/>
<path d="M180.12 106.96 L188.22 98.46 L196.32 97.04 L199.96 99.47 L192.27 102.51 L185.18 107.57 Z" fill="#ffffff"/>
<path d="M187.21 113.64 L197.33 113.64 L196.32 110.61 L190.24 109.6 L194.29 104.94 L200.36 103.52 L205.43 107.57 L214.53 107.57 L215.55 117.69 L202.39 119.72 L189.23 117.69 Z" fill="#ffffff"/>
<path d="M199.35 91.98 L205.43 88.34 L214.53 87.33 L212.51 90.77 L203.4 94.41 Z" fill="#ffffff"/>
<path d="M207.45 95.43 L222.63 93.4 L228.7 96.44 L223.64 98.46 L210.49 100.49 Z" fill="#ffffff"/>
<path d="M223.64 86.32 L229.72 85.3 L231.74 87.33 L226.68 89.35 Z" fill="#ffffff"/>
<path d="M232.75 93.4 L237.81 95.43 L240.85 93.4 L241.86 95.43 L237.81 99.47 Z" fill="#ffffff"/>
<path d="M243.28 83.28 L244.9 84.29 L244.09 91.38 Z" fill="#ffffff"/>
<path d="M223.64 105.55 L230.73 103.93 L231.74 107.57 L225.67 110.61 Z" fill="#ffffff"/>
<path d="M237.81 105.55 L241.86 102.91 L246.92 104.94 L239.84 108.58 Z" fill="#ffffff"/>
<path d="M246.92 94.41 L255.02 97.45 L259.07 99.47 L269.19 99.47 L268.18 103.52 L257.04 102.91 L250.97 99.47 Z" fill="#ffffff"/>
<path d="M262.11 94.41 L269.19 93.4 L270.2 96.44 L264.13 96.84 Z" fill="#ffffff"/>
<path d="M259.47 89.35 L260.08 81.26 L263.72 77.81 L267.57 84.29 L267.17 89.35 Z" fill="#ffffff"/>
<path d="M228.7 139.96 L231.74 133.89 L235.79 134.9 L238.83 141.98 L230.73 142.59 Z" fill="#ffffff"/>
<path d="M245.91 107.57 L255.02 106.56 L250.97 114.66 L259.07 106.56 L264.13 106.96 L257.04 114.25 L267.17 109.6 L273.24 112.63 L278.3 118.7 L276.28 124.78 L284.37 133.89 L278.3 139.35 L274.25 132.87 L270.2 145.02 L265.14 143 L264.13 149.07 L258.06 145.02 L256.03 140.97 L247.94 138.95 L248.95 136.52 L257.04 135.91 L262.11 124.78 L247.94 118.7 L244.9 113.64 Z" fill="#ffffff"/>
<path d="M276.19 76.19 L318.7 76.6 L318.7 79.23 L291.38 86.32 L285.3 90.36 L275.18 90.36 L269.11 89.35 L275.18 83.28 L289.35 82.27 L278.22 80.24 Z" fill="#ffffff"/>
<path d="M292.39 90.36 L318.7 80.24 L323.77 80.24 L328.83 75.18 L380.45 75.18 L381.46 77.21 L366.28 81.26 L375.38 82.67 L386.52 81.26 L391.58 81.86 L394.01 84.29 L387.53 87.33 L385.51 85.3 L379.43 89.35 L374.37 91.38 L375.38 94.41 L380.45 93.4 L380.45 102.51 L373.36 97.45 L371.34 102.51 L378.42 103.52 L375.38 111.62 L365.26 113.04 L365.26 115.67 L372.35 116.68 L369.31 122.75 L366.28 124.78 L360.2 118.7 L355.55 122.75 L364.25 125.18 L362.23 127.81 L349.07 131.86 L347.04 130.45 L335.91 137.94 L334.9 139.35 L324.78 143 L313.64 159.19 L310.61 159.6 L304.94 155.14 L303.52 149.07 L301.5 145.02 L303.12 139.96 L302.51 133.89 L304.53 129.84 L309.6 127.81 L312.63 122.75 L311.62 118.7 L313.04 114.25 L308.99 113.04 L309.6 106.56 L306.56 101.5 L296.44 100.49 L294.41 96.44 L299.47 94.41 Z" fill="#ffffff"/>
<path d="M361.21 138.95 L369.31 137.94 L378.42 137.53 L381.86 140.97 L379.43 145.02 L370.32 150.08 L363.24 147.04 L364.25 143 Z" fill="#ffffff"/>
<path d="M87.21 249.84 L95.3 250.85 L100.36 255.91 L113.52 255.3 L118.58 265.02 L123.64 263 L127.69 267.04 L129.72 279.19" fill="none"/>
<path d="M109.47 185.06 L175.26 192.55 L180.32 196.19" fill="none"/>
<path d="M230.81 342.23 L238.3 341.01 L236.28 346.28 L231.21 345.67 Z" fill="#ffffff"/>
<path d="M143.16 312.27 L144.17 316.32 L147.81 316.32" fill="none"/>
<path d="M147.21 310.24 L150.24 311.26" fill="none"/>
<path d="M140.12 323.4 L144.17 320.36 L147.81 316.32" fill="none"/>
<path d="M145.18 327.45 L151.26 322.39 L158.34 317.33" fill="none"/>
<path d="M150.24 329.47 L162.39 327.45" fill="none"/>
<path d="M152.27 334.53 L160.36 333.52" fill="none"/>
<path d="M155.3 341.62 L162.39 339.6" fill="none"/>
<path d="M163.4 344.66 L165.43 343.64" fill="none"/>
<path d="M191.74 342.23 L195.18 338.58 L196.8 334.13 L199.84 338.58 L201.86 334.53 L208.95 338.58 L221.09 340.61 L227.17 344.25 L232.23 347.69 L229.19 352.75 L228.18 358.83 L231.21 361.86 L227.17 363.89 L219.07 362.87 L216.03 365.91 L219.07 370.97 L217.04 375.02 L210.97 374.01 L207.94 370.97 L205.91 361.86 L199.84 355.79 L194.37 354.37 L193.77 346.68 Z" fill="#f9e6e3"/>
<path d="M232.23 347.69 L240.32 356.8 L240.32 359.84 L238.3 365.91 L240.32 370.97 L235.26 374.01 L232.23 369.96 L231.21 361.86 L228.18 358.83 L229.19 352.75 Z" fill="#ffffff"/>
<path d="M240.32 357.81 L247.41 358.42 L248.02 370.97 L240.93 371.98 L238.3 365.91 L240.32 359.84 Z" fill="#f9e6e3"/>
<path d="M248.02 359.84 L256.52 364.9 L251.05 370.97 L248.02 370.97 Z" fill="#ffffff"/>
<path d="M258.54 382.71 L263.6 379.07 L265.22 380.69 L260.57 383.52 Z" fill="#ffffff"/>
<path d="M207.94 370.97 L201.86 374.01 L200.85 379.07 L201.86 389.19 L197.81 395.26 L192.75 399.31 L190.73 406.4 L189.72 413.48 L196.8 416.52 L199.84 421.58" fill="none"/>
<path d="M173.52 375.02 L185.67 382.11 L186.68 385.14 L179.6 388.18 L175.55 396.28 L169.47 397.29 L167.45 395.26" fill="none"/>
<path d="M185.67 382.11 L190.73 387.17 L197.81 389.19 L201.86 389.19" fill="none"/>
<path d="M192.51 400 L190.49 407.09 L191.5 413.16 L196.56 416.19 L200.61 421.26 L206.68 420.24 L214.78 419.23 L215.79 423.28 L220.85 426.32 L231.98 431.38 L235.02 441.5 L240.08 443.52 L242.11 454.66 L243.12 460.73 L251.21 462.75 L254.25 475.91 L257.29 477.94 L257.69 480.97 L254.25 486.03 L250.2 494.13 L265.38 502.23" fill="none"/>
<path d="M200.61 421.26 L204.66 426.32 L206.68 432.39 L204.66 437.45 L207.69 439.47 L205.67 443.52 L203.64 448.58 L209.72 451.62 L214.78 464.78 L216.8 462.75 L222.87 464.78 L228.95 463.77 L236.03 456.68 L242.11 454.66" fill="none"/>
<path d="M228.95 463.77 L235.02 464.78 L241.09 472.87 L246.15 475.91 L247.17 480.97 L251.21 481.98 L254.25 475.91" fill="none"/>
<path d="M214.78 464.78 L215.79 476.92 L214.78 489.07 L217.81 505.26 L219.84 521.46 L222.87 533.6 L224.9 539.68 L225.06 539.15 L229.92 550.49 L231.54 566.68 L234.78 571.54 L239.64 575.59 L245.3 575.59" fill="none"/>
<path d="M250.2 494.13 L249.19 501.21 L251.21 508.3" fill="none"/>
<path d="M243.68 580.45 L248.54 578.83 L257.45 584.49 L249.35 586.44 L245.3 588.54 L243.68 584.49 Z" fill="#ffffff"/>
<path d="M248.54 578.83 L249.03 586.11" fill="none"/>
<path d="M237.21 584.49 L241.26 582.87 L243.68 586.11 L240.45 587.41 Z" fill="#ffffff"/>
<path d="M266.36 573.16 L268.79 571.54 L270.4 576.4 L269.11 573.97 Z" fill="#ffffff"/>
<path d="M238.42 211.84 L238.68 205.26 L235.79 205.26 L228.55 211.84 L218.03 211.45 L216.71 213.16 L208.82 215.79" fill="none"/>
<path d="M177.89 198.29 L181.18 195.66 L185.79 195 L189.74 193.42 L193.03 196.32 L196.32 200.92 L195.66 202.89 L191.05 200.92 L186.45 199.61 L183.16 200.26 Z" fill="#ffffff"/>
<path d="M186.45 206.18 L189.08 204.87 L191.71 205.53 L189.74 210.79 L188.42 218.03 L186.45 219.34 L185.13 216.05 Z" fill="#ffffff"/>
<path d="M196.32 204.47 L201.58 204.87 L205.26 206.84 L206.84 209.47 L204.87 210.53 L201.58 208.16 L198.29 206.84 L196.32 209.47 L198.29 213.42 L199.21 216.05 L196.97 215.39 L195.66 212.11 L196.97 208.16 Z" fill="#ffffff"/>
<path d="M196.32 219.34 L205.53 216.71 L208.16 217.37 L200.26 220.66 L196.97 220.66 Z" fill="#ffffff"/>
<path d="M206.84 215.39 L216.05 212.11 L217.11 213.42 L208.82 216.05 Z" fill="#ffffff"/>
<path d="M261.45 198.29 L264.74 195.66 L270 192.37 L275.26 190.39 L271.97 195 L275.26 198.29 L275.26 201.58 L276.58 203.55 L273.95 205.79 L271.97 202.89 L269.34 205.53 L265.39 202.89 L262.11 201.58 Z" fill="#ffffff"/>
<path d="M252.24 210.13 L255.53 204.87 L256.58 209.47 Z" fill="#ffffff"/>
<path d="M163.34 296.17 L165.01 292.83 L168.35 291.72 L173.36 291.72 L192.29 301.18 L192.84 303.41 L183.38 305.08 L182.27 301.74 L171.13 294.5 L167.24 295.06 L165.01 296.73 Z" fill="#ffffff"/>
<path d="M165.01 298.96 L166.12 299.74 L165.79 301.3 L164.68 300.85 Z" fill="#ffffff"/>
<path d="M178.93 311.2 L181.15 310.09 L186.72 311.54 L186.16 313.1 L181.71 313.43 Z" fill="#ffffff"/>
<path d="M192.29 307.86 L195.63 306.19 L199.52 305.64 L199.52 310.65 L194.51 310.09 L192.29 309.53 L193.96 308.64 Z" fill="#ffffff"/>
<path d="M199.52 305.64 L202.86 305.97 L206.76 307.86 L208.99 310.43 L204.53 310.65 L199.52 310.65 Z" fill="#b2b2b2"/>
<path d="M212.33 308.98 L216.78 312.32 L212.88 312.32 Z" fill="#b2b2b2"/>
<path d="M183.38 283.93 L186.16 283.37 L187.28 286.15 L184.49 286.38 Z" fill="#ffffff"/>
<path d="M220.68 310.65 L225.13 311.54 L222.9 312.87 Z" fill="#ffffff"/>
<path d="M228.14 319.55 L230.36 321.56 L228.36 322.45 Z" fill="#ffffff"/>
<path d="M229.25 324.23 L231.26 324.23 L231.26 326.01 L229.25 326.01 Z" fill="#ffffff"/>
<path d="M229.25 336.48 L231.26 336.48 L231.26 338.26 L229.25 338.26 Z" fill="#ffffff"/>
<path d="M533.29 423.55 L538.16 423.16 L536.84 426.58 L534.61 425.79 Z" fill="#ffffff"/>
<path d="M572.5 445.8 L575 446 L575.5 448.6 L573 448.8 Z" fill="#ffffff"/>
<path d="M563.5 449.8 L566 449.6 L566.3 452 L563.8 452.2 Z" fill="#ffffff"/>
<path d="M497.63 250.66 L502.89 248.68 L502.24 251.05 L499.21 252.24 Z" fill="#ffffff"/>
<path d="M891.95 443.68 L893.53 440.66 L895.89 443.68 L893.79 446.58 Z" fill="#ffffff"/>
<path d="M917.21 457.76 L919.18 455.13 L920.89 457.76 L918.79 459.74 Z" fill="#ffffff"/>
<path d="M921.42 450.92 L925.11 451.58 L924.97 452.37 L921.29 451.71 Z" fill="#b2b2b2"/>
<path d="M881.68 466.97 L883.66 466.71 L886.68 474.21 L884.97 475.26 Z" fill="#b2b2b2"/>
<path d="M722.91 383.4 L725.55 382.79 L727.57 386.44 L724.94 387.65 Z" fill="#ffffff"/>
<path d="M436.18 89.74 L446.05 89.08 L451.32 93.03 L449.34 96.32 L447.37 101.58 L442.76 100.26 L443.42 94.34 L439.47 93.68 Z" fill="#ffffff"/>
<path d="M450.66 88.42 L461.18 86.45 L462.89 88.42 L459.87 91.05 L453.29 91.05 Z" fill="#ffffff"/>
<path d="M454.61 94.34 L458.16 97.37 L455 97.37 Z" fill="#ffffff"/>

<path d="M236.8 276.9 L195.6 299.0" fill="none"/><path d="M195.6 299.0 L197.8 298.9" fill="none"/><path d="M195.6 299.0 L196.9 297.2" fill="none"/><path d="M236.8 283.9 L214.6 310.6" fill="none"/><path d="M214.6 310.6 L216.6 309.7" fill="none"/><path d="M214.6 310.6 L215.1 308.5" fill="none"/><path d="M236.8 291.2 L223.5 311.8" fill="none"/><path d="M223.5 311.8 L225.3 310.6" fill="none"/><path d="M223.5 311.8 L223.7 309.6" fill="none"/><path d="M251.3 296.7 L227.4 315.1" fill="none"/><path d="M227.4 315.1 L229.5 314.7" fill="none"/><path d="M227.4 315.1 L228.3 313.1" fill="none"/><path d="M251.3 304.0 L230.1 318.4" fill="none"/><path d="M230.1 318.4 L232.3 318.1" fill="none"/><path d="M230.1 318.4 L231.2 316.5" fill="none"/><path d="M251.3 310.9 L229.6 321.0" fill="none"/><path d="M229.6 321.0 L231.8 321.0" fill="none"/><path d="M229.6 321.0 L231.0 319.3" fill="none"/><path d="M251.3 317.9 L231.3 325.1" fill="none"/><path d="M231.3 325.1 L233.4 325.3" fill="none"/><path d="M231.3 325.1 L232.8 323.5" fill="none"/><path d="M251.3 325.1 L230.1 329.4" fill="none"/><path d="M230.1 329.4 L232.3 329.9" fill="none"/><path d="M230.1 329.4 L231.9 328.0" fill="none"/><path d="M251.3 332.4 L230.7 332.4" fill="none"/><path d="M230.7 332.4 L232.7 333.3" fill="none"/><path d="M230.7 332.4 L232.7 331.4" fill="none"/><path d="M251.3 339.0 L231.3 337.4" fill="none"/><path d="M231.3 337.4 L233.2 338.5" fill="none"/><path d="M231.3 337.4 L233.3 336.6" fill="none"/><circle cx="236.8" cy="276.9" r="2.9" fill="#ffffff"/><circle cx="236.8" cy="283.9" r="2.9" fill="#b2b2b2"/><circle cx="236.8" cy="291.2" r="2.9" fill="#ffffff"/><circle cx="251.3" cy="296.7" r="2.9" fill="#b2b2b2"/><circle cx="251.3" cy="304.0" r="2.9" fill="#b2b2b2"/><circle cx="251.3" cy="310.9" r="2.9" fill="#ffffff"/><circle cx="251.3" cy="317.9" r="2.9" fill="#f9e6e3"/><circle cx="251.3" cy="325.1" r="2.9" fill="#ffffff"/><circle cx="251.3" cy="332.4" r="2.9" fill="#ffffff"/><circle cx="251.3" cy="339.0" r="2.9" fill="#ffffff"/><circle cx="172.2" cy="304.8" r="2.9" fill="#ffffff"/><circle cx="815.5" cy="305.4" r="3.0" fill="#ffffff"/><circle cx="821.6" cy="323.0" r="3.0" fill="#ffffff"/><circle cx="847.3" cy="340.0" r="3.0" fill="#ffffff"/><circle cx="798.7" cy="348.3" r="3.0" fill="#ffffff"/><circle cx="892.3" cy="340.6" r="3.0" fill="#ffffff"/><circle cx="906.0" cy="357.8" r="3.0" fill="#ffffff"/><circle cx="885.0" cy="372.4" r="3.0" fill="#ffffff"/><circle cx="922.0" cy="396.6" r="3.0" fill="#ffffff"/><circle cx="873.6" cy="412.3" r="3.0" fill="#ffffff"/><circle cx="931.5" cy="413.2" r="3.0" fill="#ffffff"/><path d="M934.5 412.0 l2.2 1.2 l-2.2 1.2" fill="none"/><circle cx="931.5" cy="428.4" r="3.0" fill="#ffffff"/><path d="M934.5 427.2 l2.2 1.2 l-2.2 1.2" fill="none"/><circle cx="931.5" cy="435.7" r="3.0" fill="#ffffff"/><path d="M934.5 434.5 l2.2 1.2 l-2.2 1.2" fill="none"/><circle cx="931.5" cy="444.0" r="3.0" fill="#ffffff"/><path d="M934.5 442.8 l2.2 1.2 l-2.2 1.2" fill="none"/><circle cx="931.5" cy="459.1" r="3.0" fill="#ffffff"/><path d="M934.5 457.9 l2.2 1.2 l-2.2 1.2" fill="none"/><circle cx="387.9" cy="249.5" r="2.2" fill="#ffffff"/><circle cx="337.5" cy="325.5" r="1.2" fill="#ffffff"/><circle cx="623.1" cy="362.3" r="3.1" fill="#ffffff"/><circle cx="575.3" cy="405.6" r="3.0" fill="#ffffff"/><circle cx="717.5" cy="372.2" r="2.7" fill="#ffffff"/><circle cx="752.1" cy="359.7" r="1.3" fill="#ffffff"/><circle cx="427.3" cy="226.4" r="2.0" fill="#ffffff"/><circle cx="419.0" cy="230.1" r="2.0" fill="#ffffff"/><circle cx="439.6" cy="232.5" r="2.0" fill="#ffffff"/><circle cx="446.8" cy="222.3" r="2.0" fill="#ffffff"/><circle cx="383.4" cy="161.0" r="2.0" fill="#ffffff"/><circle cx="422.1" cy="178.3" r="1.9" fill="#ffffff"/><circle cx="398.7" cy="184.5" r="1.0" fill="#ffffff"/><circle cx="625.8" cy="246.1" r="2.4" fill="#ffffff"/><path d="M422.6 180.1 L434.9 207.2" fill="none"/><circle cx="422.7" cy="377.2" r="0.9" fill="#7a2020" style="stroke:none"/><circle cx="223.9" cy="257.5" r="0.8" fill="#222" style="stroke:none"/><circle cx="633.9" cy="401.5" r="0.6" fill="#222" style="stroke:none"/><circle cx="35.7" cy="438.8" r="2.9" fill="#ffffff"/><path d="M32.6 437.5 l-2.4 1.3 l2.4 1.3" fill="none"/><circle cx="35.7" cy="446.3" r="2.9" fill="#ffffff"/><path d="M32.6 445.0 l-2.4 1.3 l2.4 1.3" fill="none"/><circle cx="35.7" cy="454.2" r="2.9" fill="#ffffff"/><path d="M32.6 452.9 l-2.4 1.3 l2.4 1.3" fill="none"/><circle cx="35.7" cy="461.9" r="2.9" fill="#ffffff"/><path d="M32.6 460.6 l-2.4 1.3 l2.4 1.3" fill="none"/><path d="M498.42 372.89 L496.45 377.5 L495.39 384.74 L495.13 392.63 L495.79 397.24 L497.37 404.47 L499.08 407.11" fill="none" style="stroke:#222;stroke-width:2"/><path d="M498.42 372.89 L496.45 377.5 L495.39 384.74 L495.13 392.63 L495.79 397.24 L497.37 404.47 L499.08 407.11" fill="none" style="stroke:#fff;stroke-width:0.9"/><path d="M504.34 407.76 L506.97 413.68 L508.95 420.26 L510.53 426.84" fill="none" style="stroke:#222;stroke-width:2"/><path d="M504.34 407.76 L506.97 413.68 L508.95 420.26 L510.53 426.84" fill="none" style="stroke:#fff;stroke-width:0.9"/><path d="M482.5 348.03 L483.82 343.42 L489.74 345.39 L496.32 343.42 L502.89 342.11 L505.53 335.53 L508.16 342.11 L508.82 344.74" fill="none" style="stroke:#d98a88;stroke-width:1.6"/><path d="M482.5 348.03 L483.82 343.42 L489.74 345.39 L496.32 343.42 L502.89 342.11 L505.53 335.53 L508.16 342.11 L508.82 344.74" fill="none" style="stroke:#fff;stroke-width:0.8;stroke-dasharray:1.2 0.8"/><path d="M612.37 248.68 L616.32 248.03 L621.58 247.37 L624.21 250 L627.5 251.32" fill="none" style="stroke:#999;stroke-width:0.6;stroke-dasharray:1 1"/><path d="M618.29 243.42 L619.61 248.03 L621.58 254.61" fill="none" style="stroke:#999;stroke-width:0.6;stroke-dasharray:1 1"/><path d="M696.92 275.02 L699.96 259.84 L712.11 259.84" fill="none" style="stroke:#f7dcd9;stroke-width:1.2"/><circle cx="894.8" cy="449.5" r="0.7" fill="#222" style="stroke:none"/><circle cx="796.4" cy="408.3" r="0.8" fill="#222" style="stroke:none"/><circle cx="801.5" cy="407.3" r="0.8" fill="#222" style="stroke:none"/>
</g>
<rect x="9.0" y="53.5" width="966.3" height="557.9" rx="1" fill="none" stroke="#747474" stroke-width="1"/>
<!-- legend -->
<g stroke="#333" stroke-width="0.8">
<rect x="290" y="541.5" width="20" height="9.5" fill="#ad0a32"/>
<rect x="290" y="559" width="20" height="9.5" fill="#d98a88"/>
<rect x="290" y="576.5" width="20" height="9.5" fill="#f9e6e3"/>
<rect x="479.5" y="541.5" width="20" height="9.8" fill="#b2b2b2" rx="1"/>
<rect x="479.5" y="569" width="20" height="9.8" fill="#ffffff" rx="1"/>
<rect x="479.5" y="586.7" width="20" height="9.8" fill="#e1e1e1" rx="1"/>
</g>
<text class="lg" x="318.8" y="549">High (prevalence ≥50%)</text>
<text class="lg" x="318.8" y="566.5">Moderate (prevalence 10%−49%)</text>
<text class="lg" x="318.8" y="584">Low (prevalence &lt;10%)</text>
<text class="lg" x="508.4" y="549">Countries requiring evaluation of schistosomiasis status</text>
<text class="lg" x="508.4" y="560.7">in order to verify if interruption of trasmission has been achieved</text>
<text class="lg" x="506.7" y="576.4">Non-endemic countries</text>
<text class="lg" x="506.7" y="594.1">Not applicable</text>
<!-- footer -->
<text class="ft" x="10" y="635.8">The boundaries and names shown and the designations used on this map do not imply the expression</text>
<text class="ft" x="10" y="647.3">of any opinion whatsoever on the part of the World Health Organization concerning the legal status</text>
<text class="ft" x="10" y="658.8">of any country, territory, city or area or of its authorities, or concerning the delimitation of its frontiers</text>
<text class="ft" x="10" y="670.3">or boundaries. Dotted lines on maps represent approximate border lines for which there may not</text>
<text class="ft" x="10" y="681.8">yet be full agreement. © WHO 2013. All rights reserved</text>
<text class="ft" x="515.7" y="636">Data Source: World Health Organization</text>
<text class="ft" x="515.7" y="647.7">Map Production: Control of Neglected</text>
<text class="ft" x="515.7" y="659.3">Tropical Diseases (NTD)</text>
<text class="ft" x="515.7" y="671">World Health Organization</text>
<!-- WHO logo -->
<g id="who">
<circle cx="862" cy="645.6" r="16" fill="none" stroke="#2a2a2a" stroke-width="0.9"/>
<circle cx="862" cy="645.6" r="12.2" fill="none" stroke="#2a2a2a" stroke-width="0.6"/>
<circle cx="862" cy="645.6" r="8.4" fill="none" stroke="#2a2a2a" stroke-width="0.6"/>
<circle cx="862" cy="645.6" r="4.4" fill="none" stroke="#2a2a2a" stroke-width="0.6"/>
<path d="M846 645.6 H878 M862 629.6 V661.6" stroke="#2a2a2a" stroke-width="0.6" fill="none"/>
<path d="M850.686 634.286 L873.314 656.914" stroke="#2a2a2a" stroke-width="0.5" fill="none"/>
<path d="M873.314 634.286 L850.686 656.914" stroke="#2a2a2a" stroke-width="0.5" fill="none"/>
<path d="M849 648.6 L852 647.6 L853 650.1 L855 650.6 L854 653.6 L851.5 654.1 L851 651.6 L848.5 650.6Z" fill="#2a2a2a"/>
<path d="M858 642.6 L862 640.6 L865 641.6 L868 640.6 L870 643.6 L869 646.6 L871 648.6 L869 651.6 L870 654.6 L867 656.6 L865 653.6 L863 654.6 L862 651.6 L860 649.6 L861 646.6 L858 645.6Z" fill="#2a2a2a"/>
<path d="M856 634.6 L860 632.6 L861 635.6 L858 637.1 L855 637.6Z" fill="#2a2a2a"/>
<path d="M867 633.6 L870 635.6 L872 638.6 L869 637.6 L867 636.1Z" fill="#2a2a2a"/>
<path d="M856 643.6 L858 644.6 L857 647.6 L855 646.6Z" fill="#2a2a2a"/>
<path d="M862 626.1 V660.1" stroke="#2a2a2a" stroke-width="1.7" fill="none"/>
<path d="M861.5 632.1 c5 1 6 5 1.5 7 c-6 2 -6 5 -1 7 c4 1.5 4 5 0 6.5 c-3.5 1.2 -3 4 0 5" stroke="#2a2a2a" stroke-width="1.5" fill="none"/>
<path d="M861.5 632.1 c5 1 6 5 1.5 7 c-6 2 -6 5 -1 7 c4 1.5 4 5 0 6.5 c-3.5 1.2 -3 4 0 5" stroke="#fff" stroke-width="0.35" fill="none"/>
<path d="M854.55 664.05 L853.59 663.64 L852.66 663.17 L851.75 662.66 L850.87 662.10 L850.02 661.49 L849.21 660.84 L848.43 660.15 L847.69 659.42 L846.98 658.66 L846.32 657.85 L845.70 657.01 L845.12 656.15 L844.60 655.25 L844.11 654.32 L843.68 653.38 L843.30 652.41 L842.97 651.42 L842.69 650.41 L842.47 649.40 L842.29 648.37 L842.18 647.33 L842.11 646.29 L842.10 645.25 L842.15 644.21 L842.25 643.17 L842.40 642.14 L842.61 641.12 L842.87 640.11 L843.18 639.12 L843.55 638.15 L843.96 637.19 L844.43 636.26 L844.94 635.35 L845.50 634.47 L846.11 633.62 L846.76 632.81 L847.45 632.03" stroke="#2a2a2a" stroke-width="0.7" fill="none"/>
<path d="M852.66 663.17 Q849.06 660.22 846.87 664.33 Q850.15 665.69 852.66 663.17 Z" fill="#2a2a2a"/>
<path d="M852.66 663.17 Q853.82 659.15 849.66 658.68 Q849.70 661.90 852.66 663.17 Z" fill="#2a2a2a"/>
<path d="M849.48 661.07 Q846.51 657.48 843.58 661.10 Q846.54 663.06 849.48 661.07 Z" fill="#2a2a2a"/>
<path d="M849.48 661.07 Q851.39 657.34 847.39 656.08 Q846.81 659.25 849.48 661.07 Z" fill="#2a2a2a"/>
<path d="M846.76 658.39 Q844.53 654.31 840.96 657.29 Q843.49 659.79 846.76 658.39 Z" fill="#2a2a2a"/>
<path d="M846.76 658.39 Q849.34 655.10 845.66 653.10 Q844.48 656.10 846.76 658.39 Z" fill="#2a2a2a"/>
<path d="M844.60 655.25 Q843.19 650.81 839.11 653.07 Q841.12 656.00 844.60 655.25 Z" fill="#2a2a2a"/>
<path d="M844.60 655.25 Q847.76 652.51 844.53 649.85 Q842.80 652.57 844.60 655.25 Z" fill="#2a2a2a"/>
<path d="M843.07 651.75 Q842.54 647.13 838.11 648.56 Q839.52 651.82 843.07 651.75 Z" fill="#2a2a2a"/>
<path d="M843.07 651.75 Q846.71 649.67 844.04 646.44 Q841.83 648.78 843.07 651.75 Z" fill="#2a2a2a"/>
<path d="M842.25 648.03 Q842.60 643.38 837.98 643.95 Q838.75 647.42 842.25 648.03 Z" fill="#2a2a2a"/>
<path d="M842.25 648.03 Q846.21 646.67 844.21 642.99 Q841.59 644.87 842.25 648.03 Z" fill="#2a2a2a"/>
<path d="M842.15 644.21 Q843.38 639.72 838.74 639.40 Q838.83 642.95 842.15 644.21 Z" fill="#2a2a2a"/>
<path d="M842.15 644.21 Q846.30 643.64 845.03 639.65 Q842.10 640.99 842.15 644.21 Z" fill="#2a2a2a"/>
<path d="M842.78 640.45 Q844.85 636.28 840.35 635.07 Q839.76 638.58 842.78 640.45 Z" fill="#2a2a2a"/>
<path d="M842.78 640.45 Q846.96 640.68 846.48 636.52 Q843.35 637.28 842.78 640.45 Z" fill="#2a2a2a"/>
<path d="M844.11 636.88 Q846.94 633.18 842.76 631.13 Q841.51 634.46 844.11 636.88 Z" fill="#2a2a2a"/>
<path d="M844.11 636.88 Q848.17 637.90 848.50 633.73 Q845.28 633.87 844.11 636.88 Z" fill="#2a2a2a"/>
<path d="M846.11 633.62 Q849.59 630.53 845.87 627.73 Q844.01 630.76 846.11 633.62 Z" fill="#2a2a2a"/>
<path d="M846.11 633.62 Q849.90 635.40 851.01 631.37 Q847.82 630.90 846.11 633.62 Z" fill="#2a2a2a"/>
<path d="M869.45 664.05 L870.41 663.64 L871.34 663.17 L872.25 662.66 L873.13 662.10 L873.98 661.49 L874.79 660.84 L875.57 660.15 L876.31 659.42 L877.02 658.66 L877.68 657.85 L878.30 657.01 L878.88 656.15 L879.40 655.25 L879.89 654.32 L880.32 653.38 L880.70 652.41 L881.03 651.42 L881.31 650.41 L881.53 649.40 L881.71 648.37 L881.82 647.33 L881.89 646.29 L881.90 645.25 L881.85 644.21 L881.75 643.17 L881.60 642.14 L881.39 641.12 L881.13 640.11 L880.82 639.12 L880.45 638.15 L880.04 637.19 L879.57 636.26 L879.06 635.35 L878.50 634.47 L877.89 633.62 L877.24 632.81 L876.55 632.03" stroke="#2a2a2a" stroke-width="0.7" fill="none"/>
<path d="M871.34 663.17 Q873.53 667.28 877.13 664.33 Q874.62 661.81 871.34 663.17 Z" fill="#2a2a2a"/>
<path d="M871.34 663.17 Q875.50 662.70 874.34 658.68 Q871.38 659.95 871.34 663.17 Z" fill="#2a2a2a"/>
<path d="M874.52 661.07 Q877.46 664.68 880.42 661.10 Q877.48 659.10 874.52 661.07 Z" fill="#2a2a2a"/>
<path d="M874.52 661.07 Q878.52 659.81 876.61 656.08 Q873.94 657.90 874.52 661.07 Z" fill="#2a2a2a"/>
<path d="M877.24 658.39 Q880.81 661.38 883.04 657.29 Q879.77 655.90 877.24 658.39 Z" fill="#2a2a2a"/>
<path d="M877.24 658.39 Q880.93 656.40 878.34 653.10 Q876.07 655.39 877.24 658.39 Z" fill="#2a2a2a"/>
<path d="M879.40 655.25 Q883.48 657.50 884.89 653.07 Q881.41 652.32 879.40 655.25 Z" fill="#2a2a2a"/>
<path d="M879.40 655.25 Q882.64 652.59 879.47 649.85 Q877.68 652.53 879.40 655.25 Z" fill="#2a2a2a"/>
<path d="M880.93 651.75 Q885.35 653.18 885.89 648.56 Q882.34 648.49 880.93 651.75 Z" fill="#2a2a2a"/>
<path d="M880.93 651.75 Q883.59 648.52 879.96 646.44 Q878.71 649.41 880.93 651.75 Z" fill="#2a2a2a"/>
<path d="M881.75 648.03 Q886.37 648.59 886.02 643.95 Q882.52 644.56 881.75 648.03 Z" fill="#2a2a2a"/>
<path d="M881.75 648.03 Q883.75 644.35 879.79 642.99 Q879.13 646.15 881.75 648.03 Z" fill="#2a2a2a"/>
<path d="M881.85 644.21 Q886.49 643.88 885.26 639.40 Q881.94 640.66 881.85 644.21 Z" fill="#2a2a2a"/>
<path d="M881.85 644.21 Q883.11 640.22 878.97 639.65 Q878.92 642.87 881.85 644.21 Z" fill="#2a2a2a"/>
<path d="M881.22 640.45 Q885.72 639.24 883.65 635.07 Q880.63 636.95 881.22 640.45 Z" fill="#2a2a2a"/>
<path d="M881.22 640.45 Q881.70 636.29 877.52 636.52 Q878.09 639.69 881.22 640.45 Z" fill="#2a2a2a"/>
<path d="M879.89 636.88 Q884.07 634.83 881.24 631.13 Q878.64 633.55 879.89 636.88 Z" fill="#2a2a2a"/>
<path d="M879.89 636.88 Q879.56 632.70 875.50 633.73 Q876.67 636.73 879.89 636.88 Z" fill="#2a2a2a"/>
<path d="M877.89 633.62 Q881.61 630.82 878.13 627.73 Q876.03 630.60 877.89 633.62 Z" fill="#2a2a2a"/>
<path d="M877.89 633.62 Q876.78 629.59 872.99 631.37 Q874.70 634.09 877.89 633.62 Z" fill="#2a2a2a"/>
<path d="M847 664.9 Q858 665.1 869 668.8" stroke="#2a2a2a" stroke-width="1.1" fill="none"/>
<path d="M877 664.9 Q866 665.1 855 668.8" stroke="#2a2a2a" stroke-width="1.1" fill="none"/>
</g>
<text class="who" x="890" y="644" textLength="84" lengthAdjust="spacingAndGlyphs">World Health</text>
<text class="who" x="890" y="659.3" textLength="84" lengthAdjust="spacingAndGlyphs">Organization</text>
</svg>
</body></html>
